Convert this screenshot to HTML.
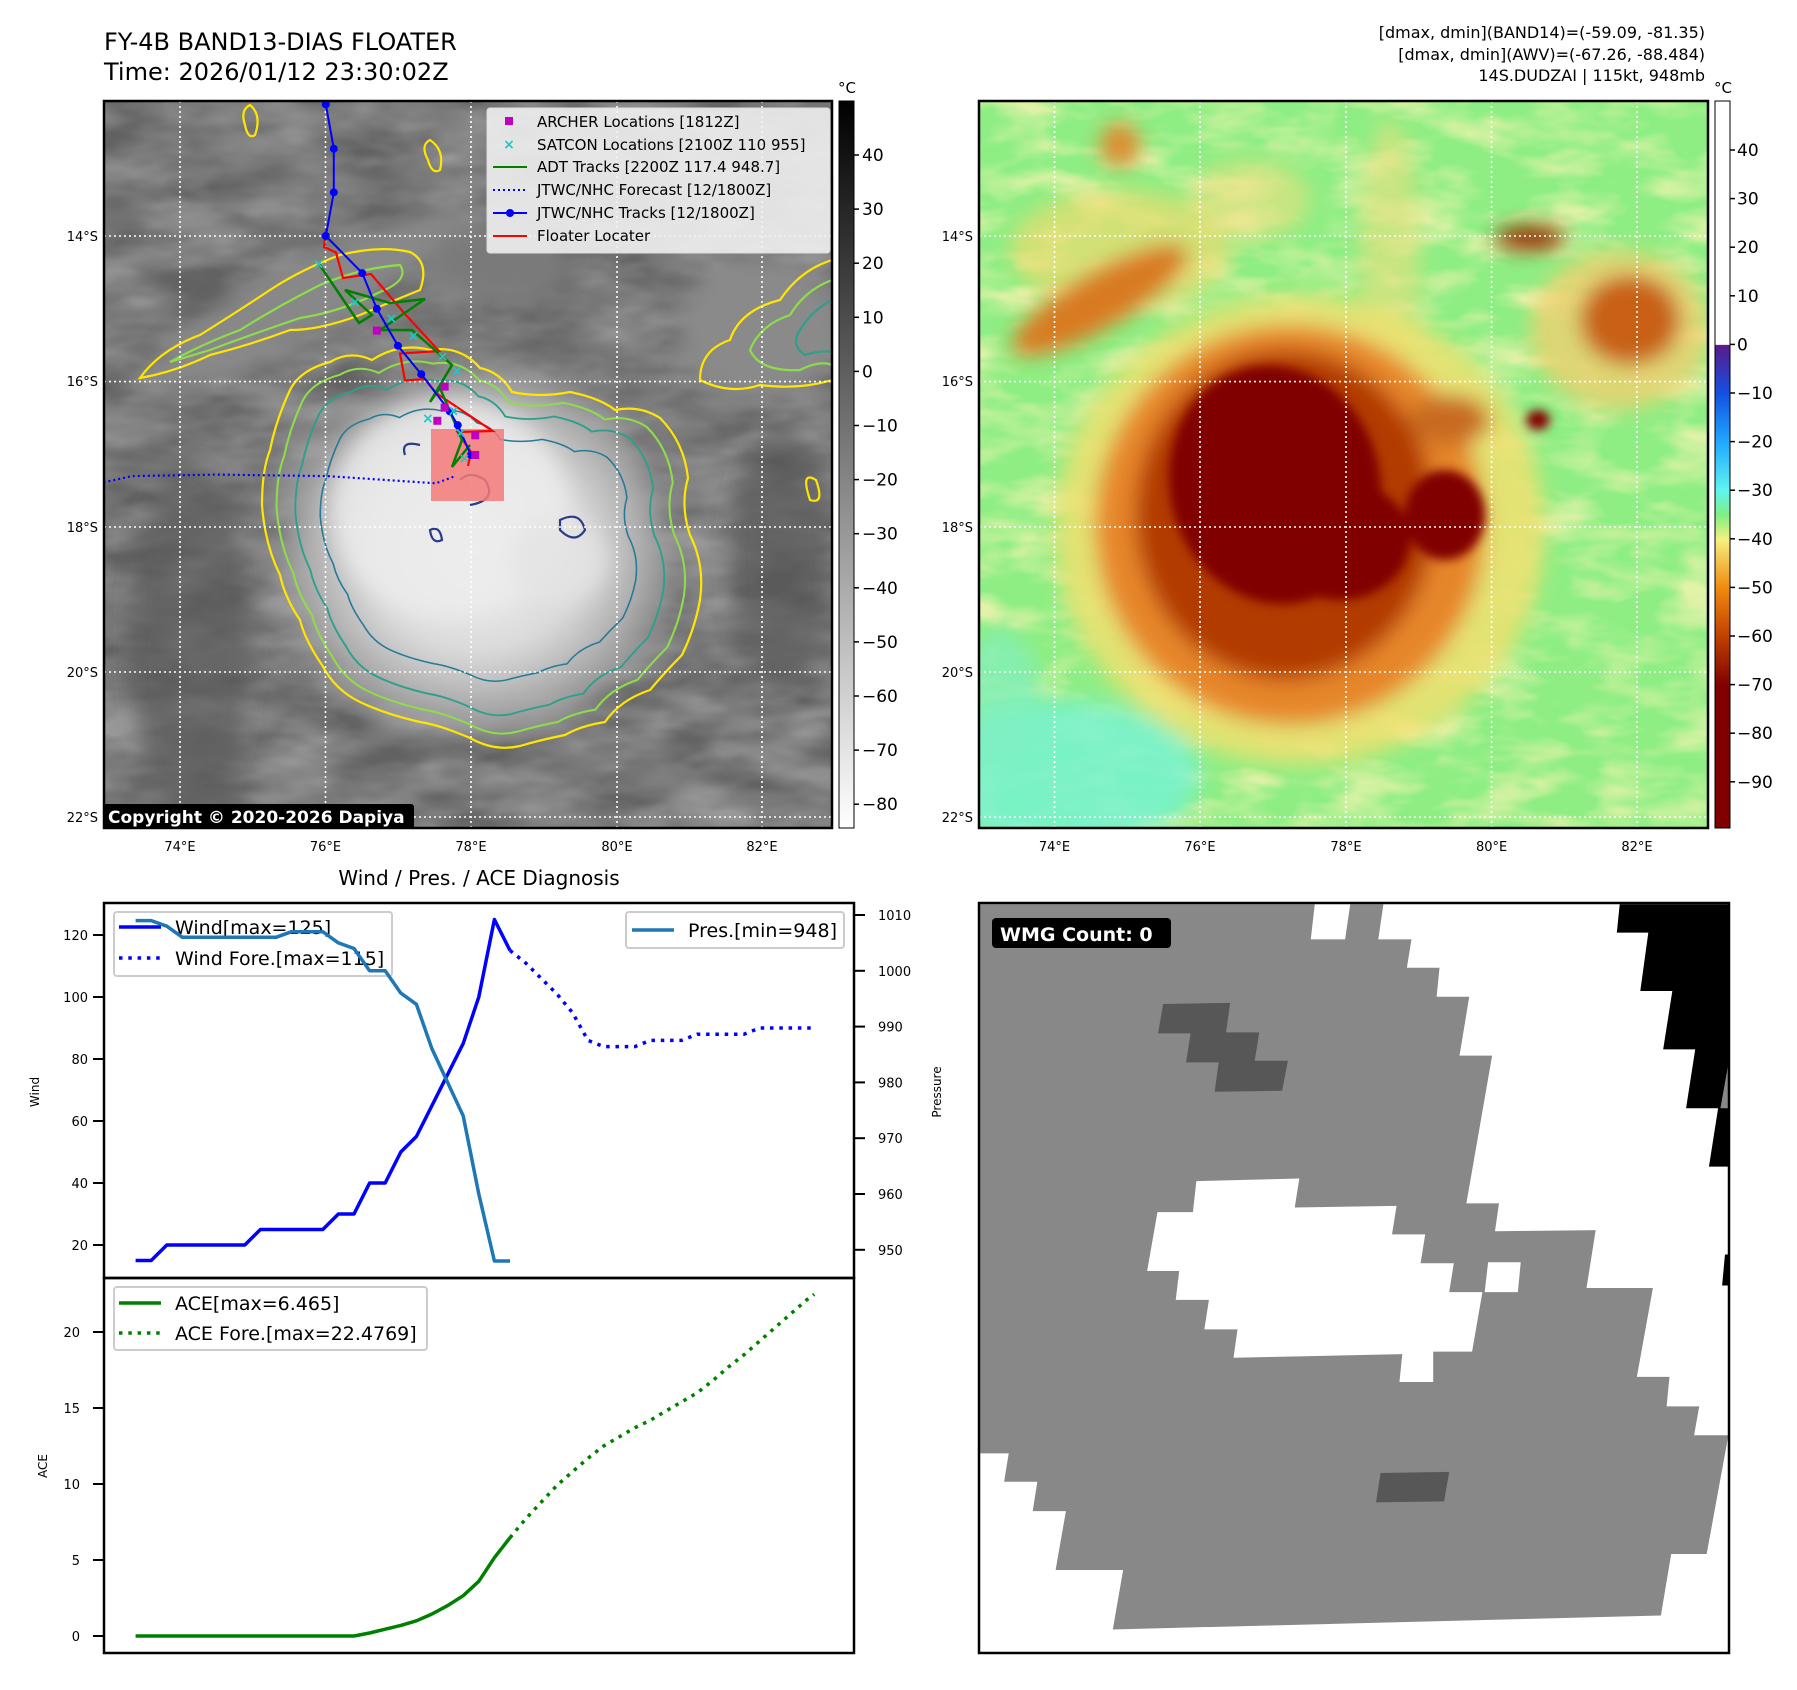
<!DOCTYPE html>
<html><head><meta charset="utf-8">
<style>
html,body{margin:0;padding:0;background:#fff;}
svg{display:block;font-family:"DejaVu Sans","Liberation Sans",sans-serif;}
</style></head>
<body>
<svg id="root" width="1797" height="1690" viewBox="0 0 1797 1690" xmlns="http://www.w3.org/2000/svg">
<defs>
  <clipPath id="clipL"><rect x="104" y="101" width="728" height="727"/></clipPath>
  <clipPath id="clipR"><rect x="979" y="101" width="729" height="727"/></clipPath>
  <filter id="blur8" x="-30%" y="-30%" width="160%" height="160%"><feGaussianBlur stdDeviation="10"/></filter>
  <filter id="blur4" x="-30%" y="-30%" width="160%" height="160%"><feGaussianBlur stdDeviation="5"/></filter>
  <filter id="tex" x="0" y="0" width="100%" height="100%">
    <feTurbulence type="fractalNoise" baseFrequency="0.012 0.03" numOctaves="3" seed="7"/>
    <feColorMatrix type="matrix" values="0 0 0 0 0.5  0 0 0 0 0.5  0 0 0 0 0.5  0.9 0.9 0.9 0 -0.9"/>
  </filter>
  <filter id="tex2" x="0" y="0" width="100%" height="100%">
    <feTurbulence type="fractalNoise" baseFrequency="0.015 0.035" numOctaves="3" seed="3"/>
    <feColorMatrix type="matrix" values="0 0 0 0 0.95  0 0 0 0 0.9  0 0 0 0 0.45  1.2 1.2 1.2 0 -1.6"/>
  </filter>
  <linearGradient id="cbL" x1="0" y1="0" x2="0" y2="1">
    <stop offset="0" stop-color="#000"/><stop offset="1" stop-color="#fff"/>
  </linearGradient>
  <linearGradient id="cbR" x1="0" y1="0" x2="0" y2="1">
    <stop offset="0" stop-color="#ffffff"/>
    <stop offset="0.335" stop-color="#ffffff"/>
    <stop offset="0.336" stop-color="#5a1a8a"/>
    <stop offset="0.402" stop-color="#1450e0"/>
    <stop offset="0.469" stop-color="#20a8ff"/>
    <stop offset="0.536" stop-color="#60f4f0"/>
    <stop offset="0.57" stop-color="#80f080"/>
    <stop offset="0.603" stop-color="#f4f080"/>
    <stop offset="0.67" stop-color="#f08a10"/>
    <stop offset="0.737" stop-color="#c04000"/>
    <stop offset="0.804" stop-color="#800000"/>
    <stop offset="1" stop-color="#800000"/>
  </linearGradient>
  <radialGradient id="cloud" cx="0.5" cy="0.5" r="0.5">
    <stop offset="0" stop-color="#eeeeee"/><stop offset="0.5" stop-color="#dcdcdc"/>
    <stop offset="0.8" stop-color="#a8a8a8"/><stop offset="1" stop-color="#a0a0a0" stop-opacity="0"/>
  </radialGradient>
  <path id="ringY" d="M290,390 Q300,370 330,362 Q350,350 372,360 Q400,342 430,350 Q460,345 480,368 Q500,372 512,392 Q540,398 570,392 Q600,398 615,410 Q640,405 660,418 Q684,442 688,478 Q680,505 690,535 Q705,565 700,600 Q695,628 682,655 Q665,672 650,690 Q620,700 605,722 Q580,726 565,735 Q540,740 520,746 Q495,752 470,738 Q440,725 420,722 Q385,714 360,702 Q335,690 322,665 Q305,640 300,620 Q285,598 280,575 Q265,545 262,505 Q262,470 270,450 Q276,420 290,390 Z"/>
</defs>

<!-- ================= TOP LEFT MAP ================= -->
<text x="104" y="50" font-size="24" fill="#000">FY-4B BAND13-DIAS FLOATER</text>
<text x="104" y="80" font-size="24" fill="#000">Time: 2026/01/12 23:30:02Z</text>

<g clip-path="url(#clipL)">
  <rect x="104" y="101" width="728" height="727" fill="#626262"/>
  <rect x="104" y="101" width="728" height="727" filter="url(#tex)" opacity="0.6"/>
  <g filter="url(#blur8)">
    <ellipse cx="190" cy="640" rx="60" ry="180" fill="#555" opacity="0.6"/>
    <ellipse cx="780" cy="560" rx="50" ry="130" fill="#555" opacity="0.6"/>
    <ellipse cx="300" cy="300" rx="170" ry="35" fill="#888" transform="rotate(-28 300 300)"/>
    <ellipse cx="760" cy="330" rx="80" ry="70" fill="#8a8a8a"/>
    <ellipse cx="500" cy="260" rx="70" ry="40" fill="#7a7a7a"/>
    <ellipse cx="475" cy="550" rx="215" ry="200" fill="url(#cloud)"/>
    <ellipse cx="450" cy="510" rx="120" ry="110" fill="#ececec" opacity="0.8"/>
    <ellipse cx="560" cy="560" rx="50" ry="45" fill="#e4e4e4" opacity="0.8"/>
  </g>
  <g fill="none" stroke-width="2.2">
    <use href="#ringY" stroke="#ffe600"/>
    <use href="#ringY" stroke="#8fdc4a" transform="translate(470 545) scale(0.93) translate(-470 -545)"/>
    <use href="#ringY" stroke="#2ca08a" transform="translate(470 545) scale(0.84) translate(-470 -545)"/>
    <use href="#ringY" stroke="#267a96" transform="translate(470 540) scale(0.72 0.68) translate(-470 -540)"/>
    <path stroke="#2a3c88" d="M405,455 Q400,440 420,445 M460,480 Q470,470 485,480 Q498,500 470,505 M560,520 Q580,510 585,530 Q575,545 560,530 Z M430,530 Q440,525 442,540 Q432,545 430,530 Z"/>
    <path stroke="#ffe600" d="M140,378 Q160,350 200,335 Q240,310 270,290 Q300,270 340,255 Q380,245 410,252 Q430,262 420,290 Q395,300 360,315 Q320,330 290,330 Q250,345 210,355 Q175,372 140,378 Z"/>
    <path stroke="#8fdc4a" d="M170,362 Q200,345 240,330 Q280,305 320,285 Q360,268 400,265 Q410,280 380,292 Q340,312 300,318 Q250,335 210,350 Z"/>
    <path stroke="#ffe600" d="M832,260 Q800,270 780,300 Q740,310 730,340 Q700,350 700,380 Q730,395 760,385 Q800,390 832,380"/>
    <path stroke="#8fdc4a" d="M832,280 Q805,290 790,315 Q760,325 750,350 Q760,372 800,370 Q820,360 832,365"/>
    <path stroke="#2ca08a" d="M832,300 Q812,310 800,330 Q790,345 805,355 Q820,350 832,352"/>
    <path stroke="#ffe600" d="M428,160 Q420,145 430,140 Q445,150 440,170 Q432,175 428,160 Z M245,125 Q240,110 250,105 Q262,115 255,135 Q248,140 245,125 Z M816,480 Q800,470 810,500 Q825,505 816,480 Z"/>
  </g>
  <g stroke="#fff" stroke-width="1.6" stroke-dasharray="2 3">
    <line x1="180" y1="101" x2="180" y2="828"/><line x1="325.5" y1="101" x2="325.5" y2="828"/>
    <line x1="471" y1="101" x2="471" y2="828"/><line x1="617" y1="101" x2="617" y2="828"/>
    <line x1="762" y1="101" x2="762" y2="828"/>
    <line x1="104" y1="236" x2="832" y2="236"/><line x1="104" y1="381.6" x2="832" y2="381.6"/>
    <line x1="104" y1="527" x2="832" y2="527"/><line x1="104" y1="672" x2="832" y2="672"/>
    <line x1="104" y1="817" x2="832" y2="817"/>
  </g>
  <rect x="431" y="429" width="73" height="72" fill="#f47a7a" opacity="0.85"/>
  <g id="tracks"></g>
</g>
<rect x="104" y="101" width="728" height="727" fill="none" stroke="#000" stroke-width="2.5"/>

<g>
  <rect x="487" y="108" width="343" height="145" rx="3" fill="#f2f2f2" fill-opacity="0.88" stroke="#ddd"/>
  <rect x="505" y="117" width="8" height="8" fill="#c000c0"/>
  <text x="509" y="145" font-size="14" fill="#1ec8c8" text-anchor="middle" dominant-baseline="middle" font-weight="bold">×</text>
  <line x1="493" y1="167" x2="527" y2="167" stroke="#008000" stroke-width="2"/>
  <line x1="493" y1="190" x2="527" y2="190" stroke="#0000ff" stroke-width="2" stroke-dasharray="2 3"/>
  <line x1="493" y1="213" x2="527" y2="213" stroke="#0000ff" stroke-width="2"/><circle cx="510" cy="213" r="4" fill="#0000ff"/>
  <line x1="493" y1="236" x2="527" y2="236" stroke="#ff0000" stroke-width="2"/>
  <g font-size="15" fill="#000">
    <text x="537" y="127">ARCHER Locations [1812Z]</text>
    <text x="537" y="150">SATCON Locations [2100Z 110 955]</text>
    <text x="537" y="172">ADT Tracks [2200Z 117.4 948.7]</text>
    <text x="537" y="195">JTWC/NHC Forecast [12/1800Z]</text>
    <text x="537" y="218">JTWC/NHC Tracks [12/1800Z]</text>
    <text x="537" y="241">Floater Locater</text>
  </g>
</g>
<g>
  <rect x="103" y="804" width="311" height="25" rx="3" fill="#000"/>
  <text x="108" y="823" font-size="17" font-weight="bold" fill="#fff">Copyright © 2020-2026 Dapiya</text>
</g>

<g>
  <rect x="839" y="101" width="15" height="727" fill="url(#cbL)" stroke="#000" stroke-width="1"/>
  <text x="847" y="93" font-size="15" text-anchor="middle">°C</text>
  <g id="cbLticks" font-size="17"></g>
</g>

<g font-size="13" fill="#000">
  <text x="98" y="241" text-anchor="end">14°S</text><text x="98" y="386" text-anchor="end">16°S</text>
  <text x="98" y="532" text-anchor="end">18°S</text><text x="98" y="677" text-anchor="end">20°S</text>
  <text x="98" y="822" text-anchor="end">22°S</text>
  <text x="180" y="851" text-anchor="middle">74°E</text><text x="325.5" y="851" text-anchor="middle">76°E</text>
  <text x="471" y="851" text-anchor="middle">78°E</text><text x="617" y="851" text-anchor="middle">80°E</text>
  <text x="762" y="851" text-anchor="middle">82°E</text>
  <text x="973" y="241" text-anchor="end">14°S</text><text x="973" y="386" text-anchor="end">16°S</text>
  <text x="973" y="532" text-anchor="end">18°S</text><text x="973" y="677" text-anchor="end">20°S</text>
  <text x="973" y="822" text-anchor="end">22°S</text>
  <text x="1054.5" y="851" text-anchor="middle">74°E</text><text x="1200" y="851" text-anchor="middle">76°E</text>
  <text x="1346" y="851" text-anchor="middle">78°E</text><text x="1491.6" y="851" text-anchor="middle">80°E</text>
  <text x="1637" y="851" text-anchor="middle">82°E</text>
</g>

<!-- ================= TOP RIGHT MAP ================= -->
<g font-size="16" fill="#000" text-anchor="end">
  <text x="1705" y="38">[dmax, dmin](BAND14)=(-59.09, -81.35)</text>
  <text x="1705" y="60">[dmax, dmin](AWV)=(-67.26, -88.484)</text>
  <text x="1705" y="81">14S.DUDZAI | 115kt, 948mb</text>
</g>
<g clip-path="url(#clipR)">
  <rect x="979" y="101" width="729" height="727" fill="#8eee84"/>
  <rect x="979" y="101" width="729" height="727" filter="url(#tex2)" opacity="0.8"/>
  <g filter="url(#blur8)">
    <ellipse cx="1060" cy="775" rx="140" ry="75" fill="#74f2d4" opacity="0.8"/>
    <ellipse cx="1000" cy="700" rx="40" ry="70" fill="#80f0c0" opacity="0.7"/>
    <ellipse cx="1120" cy="250" rx="110" ry="60" fill="#eedc70" opacity="0.7"/>
    <ellipse cx="1250" cy="200" rx="60" ry="40" fill="#eee080" opacity="0.6"/>
    <ellipse cx="1390" cy="260" rx="30" ry="140" fill="#eee080" opacity="0.6"/>
    <ellipse cx="1620" cy="330" rx="90" ry="80" fill="#f0d070" opacity="0.8"/>
    <ellipse cx="1100" cy="300" rx="100" ry="28" fill="#d87a20" transform="rotate(-30 1100 300)"/>
    <ellipse cx="1120" cy="145" rx="20" ry="22" fill="#e08a30"/>
    <ellipse cx="1300" cy="530" rx="245" ry="235" fill="#f0e070" opacity="0.85"/>
    <ellipse cx="1290" cy="525" rx="195" ry="200" fill="#e6862a"/>
    <ellipse cx="1285" cy="515" rx="150" ry="165" fill="#b23a04"/>
    <ellipse cx="1630" cy="320" rx="50" ry="45" fill="#c86018"/>
    <ellipse cx="1530" cy="238" rx="35" ry="12" fill="#9a2a00"/>
    <ellipse cx="1450" cy="420" rx="40" ry="25" fill="#c86a20"/>
  </g>
  <g filter="url(#blur4)">
    <ellipse cx="1275" cy="485" rx="105" ry="120" fill="#800000" transform="rotate(-15 1275 485)"/>
    <ellipse cx="1340" cy="540" rx="70" ry="60" fill="#800000"/>
    <ellipse cx="1445" cy="515" rx="40" ry="45" fill="#800000"/>
    <ellipse cx="1538" cy="420" rx="12" ry="10" fill="#800000"/>
  </g>
  <g stroke="#fff" stroke-width="1.6" stroke-dasharray="2 3">
    <line x1="1054.5" y1="101" x2="1054.5" y2="828"/><line x1="1200" y1="101" x2="1200" y2="828"/>
    <line x1="1346" y1="101" x2="1346" y2="828"/><line x1="1491.6" y1="101" x2="1491.6" y2="828"/>
    <line x1="1637" y1="101" x2="1637" y2="828"/>
    <line x1="979" y1="236" x2="1708" y2="236"/><line x1="979" y1="381.6" x2="1708" y2="381.6"/>
    <line x1="979" y1="527" x2="1708" y2="527"/><line x1="979" y1="672" x2="1708" y2="672"/>
    <line x1="979" y1="817" x2="1708" y2="817"/>
  </g>
</g>
<rect x="979" y="101" width="729" height="727" fill="none" stroke="#000" stroke-width="2.5"/>
<g>
  <rect x="1715" y="101" width="15" height="727" fill="url(#cbR)" stroke="#000" stroke-width="1"/>
  <text x="1723" y="93" font-size="15" text-anchor="middle">°C</text>
  <g id="cbRticks" font-size="17"></g>
</g>

<!-- ================= BOTTOM LEFT CHART ================= -->
<text x="479" y="885" font-size="20" text-anchor="middle">Wind / Pres. / ACE Diagnosis</text>
<g id="chart"></g>

<!-- ================= BOTTOM RIGHT WMG ================= -->
<g>
  <rect x="979" y="903" width="750" height="750" fill="#fff"/>
  <g transform="translate(900 880) scale(0.5721 0.5165)">
    <polygon fill="#888" points="140,47 668,47 725,47 718,115 778,115 787,47 845,47 836,115 894,115 886,170 943,170 938,226 995,226 978,340 1035,340 990,626 1047,626 1040,680 1216,678 1200,790 1316,790 1288,962 1345,962 1340,1019 1397,1019 1388,1075 1448,1075 1410,1305 1348,1305 1330,1424 372,1451 390,1336 272,1336 290,1222 232,1222 240,1165 182,1165 190,1110 140,1110"/>
    <polygon fill="#fff" points="518,583 698,578 690,634 868,631 860,686 918,686 910,742 968,742 960,798 1018,798 1000,913 932,913 932,972 873,972 878,918 583,925 590,870 532,870 540,813 482,813 488,757 432,757 450,643 512,643"/>
    <polygon fill="#fff" points="1028,740 1085,740 1080,798 1022,798"/>
    <polygon fill="#575757" points="460,240 577,238 570,295 628,295 620,350 678,350 668,408 550,410 557,353 500,353 508,297 451,297"/>
    <polygon fill="#575757" points="840,1148 960,1146 951,1203 832,1205"/>
    <polygon fill="#000" points="1258,47 1450,47 1450,555 1414,555 1430,442 1374,442 1390,328 1334,328 1350,215 1294,215 1308,102 1253,102"/>
    <polygon fill="#888" points="1448,355 1450,355 1450,442 1434,442"/>
    <polygon fill="#000" points="1442,725 1450,725 1450,785 1437,785"/>
  </g>
  <rect x="979" y="903" width="750" height="750" fill="none" stroke="#000" stroke-width="2.5"/>
  <rect x="992" y="918" width="179" height="30" rx="4" fill="#000"/>
  <text x="1000" y="941" font-size="19" font-weight="bold" fill="#fff">WMG Count: 0</text>
</g>

<script>
// ---------- chart data ----------
const pastIdx = [0,1,2,3,4,5,6,7,8,9,10,11,12,13,14,15,16,17,18,19,20,21,22,23,24];
const windPast = [15,15,20,20,20,20,20,20,25,25,25,25,25,30,30,40,40,50,55,65,75,85,100,125,115];
const presPast = [1009,1009,1008,1006,1006,1006,1006,1006,1006,1006,1007,1007,1007,1005,1004,1000,1000,996,994,986,980,974,960,948,948];
const acePast = [0,0,0,0,0,0,0,0,0,0,0,0,0,0,0,0.2,0.45,0.7,1.0,1.45,2.0,2.65,3.6,5.15,6.465];
const foreIdx = [24,25,26,27,28,29,30,31,32,33,34,35,36,37,38,39,40,41,42,43,43.5];
const windFore = [115,111,106,101,95,86,84,84,84,86,86,86,88,88,88,88,90,90,90,90,90];
const aceFore = [6.465,7.7,8.8,9.9,10.8,11.7,12.5,13.1,13.7,14.2,14.8,15.4,16.0,16.8,17.7,18.5,19.4,20.3,21.2,22.1,22.48];
const windTicks = [20,40,60,80,100,120];
const presTicks = [950,960,970,980,990,1000,1010];
const aceTicks = [0,5,10,15,20];
const cbLeftTicks = [40,30,20,10,0,-10,-20,-30,-40,-50,-60,-70,-80];
const cbRightTicks = [40,30,20,10,0,-10,-20,-30,-40,-50,-60,-70,-80,-90];
const trackLon = [76.00,76.11,76.11,76.00,76.50,76.70,76.99,77.31,77.70,77.81,77.99];
const trackLat = [-12.19,-12.80,-13.40,-14.00,-14.51,-15.00,-15.51,-15.90,-16.41,-16.60,-17.01];
const fcstLon = [77.75,77.51,76.02,74.50,73.34,72.90];
const fcstLat = [-17.31,-17.40,-17.30,-17.28,-17.30,-17.40];
const archerLon = [76.70,77.63,77.63,77.53,78.05,78.05];
const archerLat = [-15.30,-16.07,-16.36,-16.54,-16.74,-17.01];
const satconLon = [75.90,76.40,76.90,77.20,77.60,77.80,77.40,77.75,77.85,77.90];
const satconLat = [-14.38,-14.90,-15.13,-15.37,-15.65,-15.85,-16.50,-16.40,-16.70,-17.05];

const NS = 'http://www.w3.org/2000/svg';
function mk(tag, attrs, parent){const e=document.createElementNS(NS,tag);for(const k in attrs)e.setAttribute(k,attrs[k]);parent.appendChild(e);return e;}

const xI = i => 135.6 + i*15.6;
const yW = w => 1245 - (w-20)*3.1;
const yP = p => 915 + (1010-p)*5.58;
const yA = a => 1636 - a*15.2;
const mx = lon => 180 + (lon-74)*72.9;
const my = lat => 236 + (-lat-14)*72.75;
const cbLy = v => 155 + (40-v)*5.41;
const cbRy = v => 150 + (40-v)*4.86;
const pts = (xs, ys, fx, fy) => xs.map((x,k)=>fx(x).toFixed(1)+','+fy(ys[k]).toFixed(1)).join(' ');

const chart = document.getElementById('chart');
const f1 = mk('rect',{x:104,y:903,width:750,height:375,fill:'#fff',stroke:'none'},chart);



windTicks.forEach(v=>{
  const t = mk('line',{x1:93,x2:104,y1:yW(v),y2:yW(v),stroke:'#000','stroke-width':2},chart);
  
  
  const l = mk('text',{x:88,y:yW(v)+5,'font-size':13,'text-anchor':'end'},chart);
  l.textContent=v;
  
  
});
presTicks.forEach(v=>{
  const t = mk('line',{x1:854,x2:865,y1:yP(v),y2:yP(v),stroke:'#000','stroke-width':2},chart);
  
  
  const l = mk('text',{x:878,y:yP(v)+5,'font-size':13},chart);
  l.textContent=v;
  
  
});
aceTicks.forEach(v=>{
  const t = mk('line',{x1:93,x2:104,y1:yA(v),y2:yA(v),stroke:'#000','stroke-width':2},chart);
  
  
  const l = mk('text',{x:80,y:yA(v)+5,'font-size':13,'text-anchor':'end'},chart);
  l.textContent=v;
  
  
});
const at1 = mk('text',{x:35,y:1096,'font-size':12,'text-anchor':'middle',transform:'rotate(-90 35 1092)'},chart);
at1.textContent='Wind';


const at2 = mk('text',{x:43,y:1470,'font-size':12,'text-anchor':'middle',transform:'rotate(-90 43 1466)'},chart);
at2.textContent='ACE';


const at3 = mk('text',{x:937,y:1096,'font-size':12,'text-anchor':'middle',transform:'rotate(-90 937 1092)'},chart);
at3.textContent='Pressure';



const wl = mk('polyline',{points:pts(pastIdx,windPast,xI,yW),fill:'none',stroke:'#0000ff','stroke-width':3.5,'stroke-linejoin':'round'},chart);


const wf = mk('polyline',{points:pts(foreIdx,windFore,xI,yW),fill:'none',stroke:'#0000ff','stroke-width':3.5,'stroke-dasharray':'3.5 5.8'},chart);


const wlg = mk('g',{},chart);


mk('rect',{x:114,y:912,width:278,height:64,rx:3,fill:'#fff','fill-opacity':0.8,stroke:'#ccc','stroke-width':2},wlg);
mk('line',{x1:119,x2:161,y1:927,y2:927,stroke:'#0000ff','stroke-width':3.5},wlg);
mk('line',{x1:119,x2:161,y1:958,y2:958,stroke:'#0000ff','stroke-width':3.5,'stroke-dasharray':'3.5 5.8'},wlg);
const wt1 = mk('text',{x:175,y:934,'font-size':19},wlg); wt1.textContent='Wind[max=125]';
const wt2 = mk('text',{x:175,y:965,'font-size':19},wlg); wt2.textContent='Wind Fore.[max=115]';
const pl = mk('polyline',{points:pts(pastIdx,presPast,xI,yP),fill:'none',stroke:'#1f77b4','stroke-width':3.5,'stroke-linejoin':'round'},chart);


const plg = mk('g',{},chart);


mk('rect',{x:626,y:912,width:218,height:36,rx:3,fill:'#fff','fill-opacity':0.8,stroke:'#ccc','stroke-width':2},plg);
mk('line',{x1:632,x2:674,y1:930,y2:930,stroke:'#1f77b4','stroke-width':3.5},plg);
const pt1 = mk('text',{x:688,y:937,'font-size':19},plg); pt1.textContent='Pres.[min=948]';
const al = mk('polyline',{points:pts(pastIdx,acePast,xI,yA),fill:'none',stroke:'#008000','stroke-width':3.5,'stroke-linejoin':'round'},chart);


const af = mk('polyline',{points:pts(foreIdx,aceFore,xI,yA),fill:'none',stroke:'#008000','stroke-width':3.5,'stroke-dasharray':'3.5 5.8'},chart);


const alg = mk('g',{},chart);


mk('rect',{x:114,y:1287,width:313,height:63,rx:3,fill:'#fff','fill-opacity':0.8,stroke:'#ccc','stroke-width':2},alg);
mk('line',{x1:119,x2:161,y1:1303,y2:1303,stroke:'#008000','stroke-width':3.5},alg);
mk('line',{x1:119,x2:161,y1:1333,y2:1333,stroke:'#008000','stroke-width':3.5,'stroke-dasharray':'3.5 5.8'},alg);
const atx1 = mk('text',{x:175,y:1310,'font-size':19},alg); atx1.textContent='ACE[max=6.465]';
const atx2 = mk('text',{x:175,y:1340,'font-size':19},alg); atx2.textContent='ACE Fore.[max=22.4769]';
const fr1 = mk('rect',{x:104,y:903,width:750,height:375,fill:'none',stroke:'#000','stroke-width':2.5},chart);


const fr2 = mk('rect',{x:104,y:1278,width:750,height:375,fill:'none',stroke:'#000','stroke-width':2.5},chart);



const cbL = document.getElementById('cbLticks');
cbLeftTicks.forEach(v=>{
  const t = mk('line',{x1:854,x2:859,y1:cbLy(v),y2:cbLy(v),stroke:'#000','stroke-width':1.5},cbL);
  
  
  const l = mk('text',{x:862,y:cbLy(v)+6},cbL);
  l.textContent = v<0 ? '\u2212'+(-v) : v;
  
  
});
const cbR = document.getElementById('cbRticks');
cbRightTicks.forEach(v=>{
  const t = mk('line',{x1:1730,x2:1735,y1:cbRy(v),y2:cbRy(v),stroke:'#000','stroke-width':1.5},cbR);
  
  
  const l = mk('text',{x:1737,y:cbRy(v)+6},cbR);
  l.textContent = v<0 ? '\u2212'+(-v) : v;
  
  
});

const tr = document.getElementById('tracks');
const red = mk('polyline',{points:'326,229 324,247 336,252.5 343,278 371,274 405,314 439,351 400,353.5 405,380.5 425,379 436,393 492.5,431 457.5,432 471,452 468,466',fill:'none',stroke:'#ff0000','stroke-width':2.2},tr);


const adt = mk('polyline',{points:'319,264 359,323 372,315 345,290 390,303 425,299 380,330 412,330 452,365 430,402 440,388 462,440 452,467 470,445',fill:'none',stroke:'#008000','stroke-width':2.5},tr);


const fc = mk('polyline',{points:pts(fcstLon,fcstLat,mx,my),fill:'none',stroke:'#0000ff','stroke-width':2.2,'stroke-dasharray':'2 3'},tr);


const bt = mk('polyline',{points:pts(trackLon,trackLat,mx,my),fill:'none',stroke:'#0000ff','stroke-width':2},tr);


trackLon.forEach((lo,k)=>{
  const c = mk('circle',{cx:mx(lo),cy:my(trackLat[k]),r:4,fill:'#0000ff'},tr);
  
  
});
satconLon.forEach((lo,k)=>{
  const s = mk('text',{x:mx(lo),y:my(satconLat[k])+5,'font-size':14,'font-weight':'bold',fill:'#1ec8c8','text-anchor':'middle'},tr);
  s.textContent='×';
  
  
});
archerLon.forEach((lo,k)=>{
  const s = mk('rect',{x:mx(lo)-4,y:my(archerLat[k])-4,width:8,height:8,fill:'#c000c0'},tr);
  
  
});
</script>
</svg>
</body></html>
